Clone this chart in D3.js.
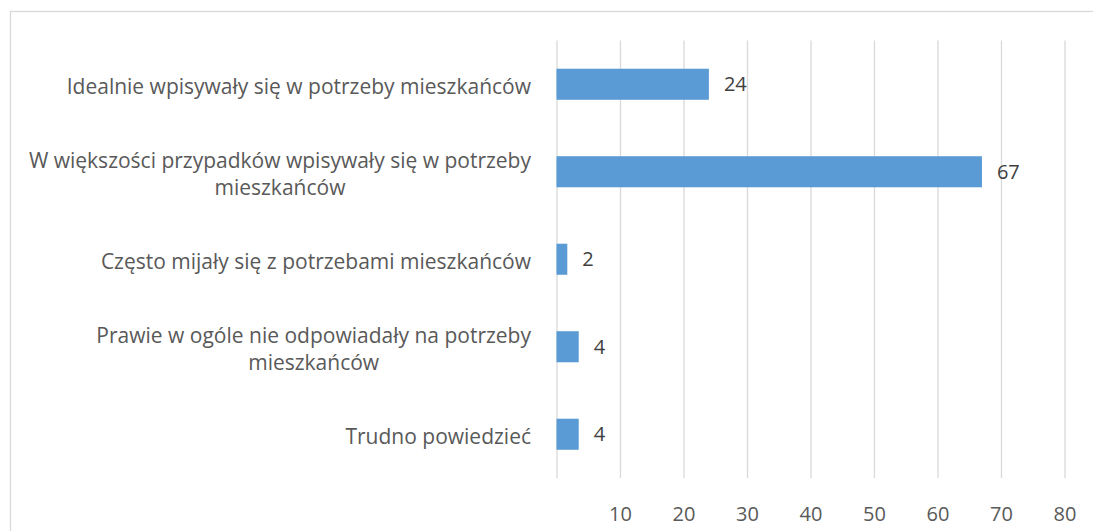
<!DOCTYPE html>
<html>
<head>
<meta charset="utf-8">
<script src="https://cdn.jsdelivr.net/npm/d3@7"></script>
<style>
  body { margin: 0; background: #fff; }
  svg { display: block; font-family: "Open Sans", Lato, sans-serif; }
</style>
</head>
<body>
<svg id="svg" width="1093" height="531"></svg>
<script>
// chart data
const categories = [
  ["Idealnie wpisywały się w potrzeby mieszkańców"],
  ["W większości przypadków wpisywały się w potrzeby", "mieszkańców"],
  ["Często mijały się z potrzebami mieszkańców"],
  ["Prawie w ogóle nie odpowiadały na potrzeby", "mieszkańców"],
  ["Trudno powiedzieć"]
];
const values = [24, 67, 1.7, 3.5, 3.5];
const tickValues = [10, 20, 30, 40, 50, 60, 70, 80];
const gridValues = [0, 10, 20, 30, 40, 50, 60, 70, 80];

const FONT = "'Open Sans', Lato, sans-serif";
const FS = 21;      // category labels
const FS_NUM = 20;  // numbers
const svg = d3.select("#svg");
const keys = categories.map((c, i) => "c" + i);

// outer frame
svg.append("rect")
  .attr("x", 10.5).attr("y", 11.5)
  .attr("width", 1100).attr("height", 540)
  .attr("fill", "none").attr("stroke", "#d9d9d9").attr("stroke-width", 1.3);

const x = d3.scaleLinear().domain([0, 80]).range([556.5, 1064.5]);
const y = d3.scaleBand().domain(keys).range([40.5, 478]).paddingInner(0.645).paddingOuter(0.3225);

// gridlines
svg.append("g")
  .attr("transform", "translate(0,478)")
  .call(d3.axisBottom(x).tickValues(gridValues).tickSize(-437.5).tickFormat(""))
  .call(g => g.select(".domain").remove())
  .call(g => g.selectAll("line").attr("stroke", "#d9d9d9").attr("stroke-width", 1.3));

// tick labels
svg.append("g")
  .attr("transform", "translate(0,507)")
  .call(d3.axisBottom(x).tickValues(tickValues).tickSize(0).tickPadding(0))
  .call(g => g.select(".domain").remove())
  .call(g => g.selectAll("text")
    .attr("font-family", FONT)
    .attr("font-size", FS_NUM).attr("fill", "#595959"));

// bars
svg.append("g").selectAll("rect")
  .data(values)
  .join("rect")
  .attr("x", x(0))
  .attr("y", (d, i) => y(keys[i]))
  .attr("width", d => x(d) - x(0))
  .attr("height", y.bandwidth())
  .attr("fill", "#5b9bd5");

// data labels
svg.append("g").selectAll("text")
  .data(values)
  .join("text")
  .attr("x", d => x(d) + 15)
  .attr("y", (d, i) => y(keys[i]) + y.bandwidth() / 2)
  .attr("dy", "0.36em")
  .attr("font-size", FS_NUM)
  .attr("fill", "#404040")
  .text(d => Math.round(d));

// category labels (wrapped lines centred under the first line)
const labelRight = 531;
const lineH = 27;
const lab = svg.append("g").selectAll("g")
  .data(categories)
  .join("g")
  .attr("transform", (d, i) => `translate(0,${y(keys[i]) + y.bandwidth() / 2 + 2})`);

lab.each(function(lines) {
  const g = d3.select(this);
  const top = -(lines.length - 1) * lineH / 2;
  const first = g.append("text")
    .attr("font-size", FS).attr("fill", "#595959")
    .attr("text-anchor", "end")
    .attr("x", labelRight)
    .attr("y", top)
    .attr("dy", "0.36em")
    .text(lines[0]);
  if (lines.length > 1) {
    const w = first.node().getComputedTextLength();
    const cx = labelRight - w / 2;
    lines.slice(1).forEach((t, k) => {
      g.append("text")
        .attr("font-size", FS).attr("fill", "#595959")
        .attr("text-anchor", "middle")
        .attr("x", cx)
        .attr("y", top + (k + 1) * lineH)
        .attr("dy", "0.36em")
        .text(t);
    });
  }
});
</script>
</body>
</html>
